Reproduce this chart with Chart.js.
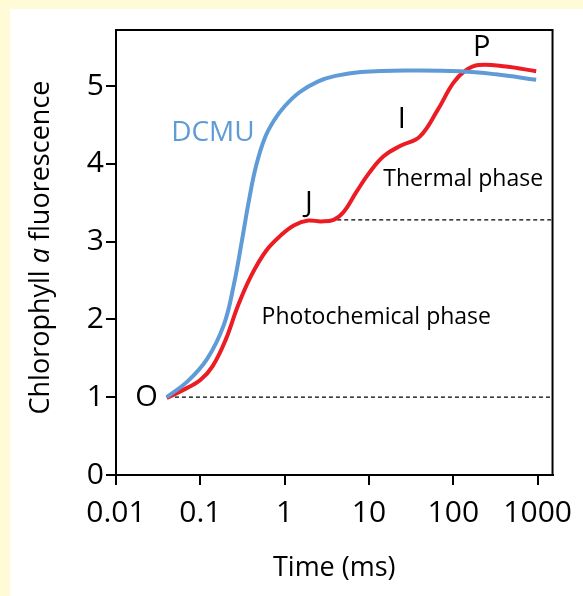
<!DOCTYPE html>
<html>
<head>
<meta charset="utf-8">
<script src="https://cdn.jsdelivr.net/npm/chart.js@4"></script>
<style>
  html,body{margin:0;padding:0;background:#fffbd6;}
  #wrap{position:absolute;left:0;top:0;width:583px;height:596px;}
  canvas{display:block;}
</style>
</head>
<body>
<div id="wrap"><canvas id="c" width="583" height="596"></canvas></div>
<script>
// ---- data ----
const ojipTime = [0.04, 0.07, 0.1, 0.14, 0.2, 0.28, 0.4, 0.6, 0.9, 1.3, 1.9, 2.7, 3.8, 5, 7, 10, 15, 24, 40, 65, 100, 140, 200, 420, 960];
const ojipValue = [0.99, 1.12, 1.22, 1.40, 1.74, 2.18, 2.56, 2.88, 3.08, 3.21, 3.27, 3.26, 3.28, 3.38, 3.63, 3.88, 4.10, 4.235, 4.35, 4.69, 5.04, 5.20, 5.27, 5.25, 5.19];
const dcmuTime = [0.04, 0.07, 0.12, 0.19, 0.25, 0.31, 0.38, 0.46, 0.58, 0.75, 1.0, 1.5, 2.5, 4, 8, 30, 120, 320, 960];
const dcmuValue = [1.0, 1.2, 1.49, 1.93, 2.45, 3.0, 3.55, 3.98, 4.33, 4.56, 4.74, 4.92, 5.06, 5.13, 5.18, 5.2, 5.19, 5.15, 5.08];
const foLevelTime = [0.05, 1500];
const foLevelValue = [1, 1];
const fjLevelTime = [4.2, 1500];
const fjLevelValue = [3.28, 3.28];
const xTickValues = [0.01, 0.1, 1, 10, 100, 1000];
const xTickLabels = ['0.01', '0.1', '1', '10', '100', '1000'];
const yTickValues = [0, 1, 2, 3, 4, 5];
const yTickLabels = ['0', '1', '2', '3', '4', '5'];

const FONT = "'Open Sans', 'DejaVu Sans', sans-serif";
const pts = (xs, ys) => xs.map((x, i) => ({x: x, y: ys[i]}));

const bgPlugin = {
  id: 'bg',
  beforeDraw(chart) {
    const ctx = chart.ctx;
    ctx.save();
    ctx.fillStyle = '#fffbd6';
    ctx.fillRect(0, 0, chart.width, chart.height);
    ctx.fillStyle = '#ffffff';
    ctx.fillRect(10, 9, chart.width - 10, chart.height - 9);
    ctx.restore();
  }
};

const framePlugin = {
  id: 'frame',
  afterDraw(chart) {
    const {ctx, chartArea: a} = chart;
    ctx.save();
    ctx.strokeStyle = '#000';
    ctx.lineWidth = 2;
    ctx.strokeRect(a.left, a.top, a.right - a.left, a.bottom - a.top);
    // y-axis title with italic "a"
    const parts = [
      {t: 'Chlorophyll ', f: '27px ' + FONT},
      {t: 'a', f: 'italic 27px ' + FONT},
      {t: ' fluorescence', f: '27px ' + FONT}
    ];
    let total = 0;
    parts.forEach(p => { ctx.font = p.f; p.w = ctx.measureText(p.t).width; total += p.w; });
    const cy = (a.top + a.bottom) / 2 - 5;
    ctx.translate(41, cy);
    ctx.rotate(-Math.PI / 2);
    ctx.fillStyle = '#000';
    ctx.textBaseline = 'middle';
    ctx.textAlign = 'left';
    let x = -total / 2;
    parts.forEach(p => { ctx.font = p.f; ctx.fillText(p.t, x, 0); x += p.w; });
    ctx.restore();
  }
};

const notes = [
  {text: 'DCMU', x: 0.141, y: 4.40, size: 28, color: '#5f9bd6'},
  {text: 'O', x: 0.023, y: 0.99, size: 29, color: '#000'},
  {text: 'J', x: 1.94, y: 3.49, size: 29, color: '#000'},
  {text: 'I', x: 24.5, y: 4.565, size: 29, color: '#000'},
  {text: 'P', x: 217, y: 5.49, size: 29, color: '#000'},
  {text: 'Thermal phase', x: 131, y: 3.80, size: 23, color: '#000'},
  {text: 'Photochemical phase', x: 12.2, y: 2.03, size: 23, color: '#000'}
];

const notePlugin = {
  id: 'notes',
  afterDatasetsDraw(chart) {
    const ctx = chart.ctx;
    const xs = chart.scales.x, ys = chart.scales.y;
    ctx.save();
    ctx.textAlign = 'center';
    ctx.textBaseline = 'middle';
    notes.forEach(n => {
      ctx.font = n.size + 'px ' + FONT;
      ctx.fillStyle = n.color;
      ctx.fillText(n.text, xs.getPixelForValue(n.x), ys.getPixelForValue(n.y));
    });
    ctx.restore();
  }
};

new Chart(document.getElementById('c'), {
  type: 'line',
  data: {
    datasets: [
      {label: 'DCMU', data: pts(dcmuTime, dcmuValue), borderColor: '#5f9bd6', borderWidth: 4, pointRadius: 0, tension: 0.4, fill: false},
      {label: 'OJIP', data: pts(ojipTime, ojipValue), borderColor: '#ec1c24', borderWidth: 4, pointRadius: 0, tension: 0.4, fill: false},
      {label: 'Fo', data: pts(foLevelTime, foLevelValue), borderColor: '#000', borderWidth: 1.3, borderDash: [4, 3], pointRadius: 0, fill: false},
      {label: 'Fj', data: pts(fjLevelTime, fjLevelValue), borderColor: '#000', borderWidth: 1.3, borderDash: [4, 3], pointRadius: 0, fill: false}
    ]
  },
  options: {
    responsive: false,
    animation: false,
    devicePixelRatio: 1,
    layout: {padding: {top: 30, right: 30, left: 0, bottom: 0}},
    plugins: {legend: {display: false}, tooltip: {enabled: false}},
    scales: {
      x: {
        type: 'logarithmic',
        min: 0.01,
        max: 1500,
        afterBuildTicks(s) { s.ticks = xTickValues.map(v => ({value: v})); },
        afterFit(s) { s.height = 121; },
        grid: {display: true, drawOnChartArea: false, drawTicks: true, tickLength: 10, color: '#000', lineWidth: 2},
        border: {display: true, color: '#000', width: 2},
        ticks: {
          color: '#000', font: {family: FONT, size: 30}, padding: 10, maxRotation: 0, autoSkip: false,
          callback(v) { const i = xTickValues.indexOf(v); return i >= 0 ? xTickLabels[i] : ''; }
        },
        title: {display: true, text: 'Time (ms)', color: '#000', font: {family: FONT, size: 27}, padding: {top: 0, bottom: 11}}
      },
      y: {
        type: 'linear',
        min: 0,
        max: 5.72,
        afterBuildTicks(s) { s.ticks = yTickValues.map(v => ({value: v})); },
        afterFit(s) { s.width = 116; },
        grid: {display: true, drawOnChartArea: false, drawTicks: true, tickLength: 10, color: '#000', lineWidth: 2},
        border: {display: true, color: '#000', width: 2},
        ticks: {
          color: '#000', font: {family: FONT, size: 30}, padding: 2,
          callback(v) { const i = yTickValues.indexOf(v); return i >= 0 ? yTickLabels[i] : ''; }
        },
        title: {display: false}
      }
    }
  },
  plugins: [bgPlugin, framePlugin, notePlugin]
});
</script>
</body>
</html>
